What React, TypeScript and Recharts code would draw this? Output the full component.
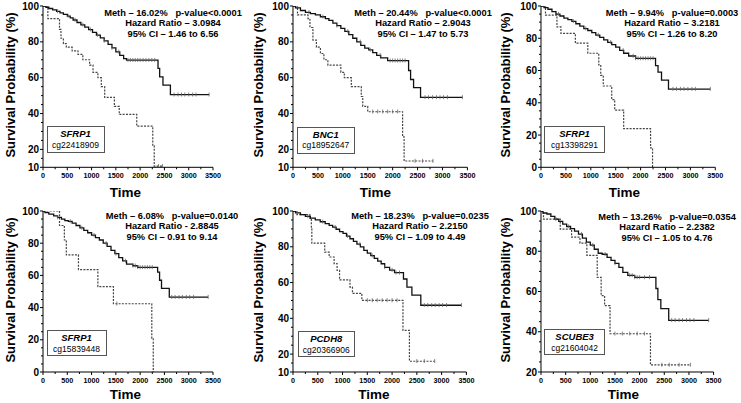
import { ComposedChart, Line, Scatter, XAxis, YAxis } from 'recharts';

// survival curves, [time, survival %] step points
const P1_UNMETH = [[0,100],[60,99.3],[120,98.6],[200,97.8],[280,97],[350,96.2],[420,95.3],[500,94.4],[560,93.4],[620,92.2],[700,90.8],[780,89.5],[860,88.2],[940,86.8],[1020,85.3],[1100,83.8],[1180,82.2],[1260,80.5],[1340,78.6],[1420,76.6],[1500,74.4],[1580,72.4],[1660,70.6],[1720,69.8],[2368,65.2],[2402,60.5],[2470,55.9],[2623,50.5],[3420,50.5]];
const P1_METH = [[0,100],[100,93],[340,87],[370,82],[420,79],[480,77],[600,75],[720,73],[820,70],[960,67],[1030,63],[1130,60],[1200,55],[1270,49],[1470,44],[1570,39.5],[1930,33],[2260,22],[2290,10.6],[2460,10.6]];
const P1_CENS_U = [300,520,660,820,980,1120,1260,1420,1560,1750,1800,1850,1900,1950,2000,2060,2120,2180,2240,2300,2700,2780,2850,2920,3000,3080,3150,3420];
const P1_CENS_M = [2380,2460];

const P2_UNMETH = [[0,100],[50,99],[150,97.5],[250,96.5],[350,95.8],[450,95],[550,94],[650,93],[720,92],[800,90.5],[880,89],[960,87.5],[1040,85.8],[1120,84],[1200,82],[1280,80],[1360,78],[1440,76.5],[1520,75.5],[1600,74],[1680,72.5],[1760,71],[1900,69.5],[2320,64],[2360,59],[2420,54.5],[2560,49],[3400,49]];
const P2_METH = [[0,100],[90,95],[300,93],[340,88],[400,81],[470,77],[550,73.5],[620,70],[700,67],[960,63],[1030,60],[1170,55],[1370,49.5],[1400,44],[1500,41],[2200,27],[2230,13.5],[2810,13.5]];
const P2_CENS_U = [320,600,880,1100,1350,1550,1750,1950,2000,2050,2100,2150,2200,2250,2650,2720,2800,2880,2950,3020,3100,3400];
const P2_CENS_M = [1600,1700,1800,1900,2000,2100,2450,2600,2810];

const P3_UNMETH = [[0,100],[60,99],[140,98],[220,96.5],[300,95],[380,93.8],[460,92.5],[540,91.5],[620,90.5],[700,89],[780,87.5],[860,86],[940,84.8],[1020,83.5],[1100,82],[1180,80.5],[1260,79],[1340,77.5],[1420,76],[1500,74.5],[1580,72.5],[1660,70.7],[1760,69],[1900,67.5],[2300,63],[2350,59],[2420,54],[2560,48.5],[3400,48.5]];
const P3_METH = [[0,100],[90,94.4],[320,87],[400,83],[690,77],[940,70.7],[1160,63.5],[1200,57],[1250,50.4],[1420,42],[1480,35.5],[1660,24],[2200,12],[2240,0]];
const P3_CENS_U = [350,650,900,1150,1400,1650,1850,1900,1950,2000,2050,2100,2150,2200,2250,2650,2720,2800,2870,2950,3030,3100,3400];
const P3_CENS_M: number[] = [];

const P4_UNMETH = [[0,100],[40,99],[120,98],[220,97],[300,96],[380,95],[450,94],[520,93.5],[600,92.5],[680,91],[760,89.5],[840,88],[920,86.5],[1000,85],[1080,83.5],[1160,82],[1240,80],[1320,78],[1400,75.5],[1480,73.5],[1560,71],[1640,69],[1720,67],[1850,66],[1950,65],[2360,62],[2400,57],[2440,52],[2600,46.5],[3400,46.5]];
const P4_METH = [[0,100],[340,91],[440,82],[480,72.7],[730,63.6],[1130,53],[1450,42.4],[2240,21],[2270,0]];
const P4_CENS_U = [300,560,800,1050,1300,1500,1700,1850,1900,1950,2000,2050,2100,2150,2200,2250,2650,2720,2800,2870,2950,3020,3100,3400];
const P4_CENS_M = [1520];

const P5_UNMETH = [[0,100],[50,99],[150,98],[250,97],[350,96],[450,95],[550,94],[650,93],[730,92],[800,91],[870,89.8],[940,88.5],[1010,87.5],[1080,86],[1150,84.5],[1220,83],[1290,81.5],[1360,80],[1430,78],[1500,76.5],[1570,75],[1640,73.5],[1710,72],[1780,70.5],[1850,68.5],[1950,67],[2050,65.5],[2230,62],[2300,57.5],[2400,53],[2580,47.3],[3400,47.3]];
const P5_METH = [[0,100],[80,98],[340,96],[370,90],[380,82],[640,77],[730,74.3],[830,70.6],[890,66.8],[940,61.5],[1150,57.5],[1200,54],[1390,50],[2220,33.3],[2350,16],[2860,16]];
const P5_CENS_U = [300,600,850,1100,1350,1600,1850,2000,2080,2150,2650,2720,2800,2870,2950,3020,3100,3400];
const P5_CENS_M = [1500,1600,1700,1800,1900,2000,2100,2500,2650,2860];

const P6_UNMETH = [[0,100],[40,99],[120,98.5],[200,97.3],[280,96],[360,94.8],[440,93.5],[520,92.3],[600,91.2],[680,90],[760,88.5],[840,86.5],[920,84.5],[1000,83],[1080,81],[1160,79],[1240,78.5],[1340,77],[1420,75.5],[1500,74],[1580,72],[1660,69.5],[1760,68],[1900,67],[2330,61.5],[2370,56],[2430,51.5],[2590,45.7],[3400,45.7]];
const P6_METH = [[0,100],[50,96],[390,91],[620,87],[790,84],[930,78],[1140,67],[1220,58],[1290,53],[1400,39],[2220,23.5],[3030,23.5]];
const P6_CENS_U = [300,560,820,1050,1300,1500,1800,1850,1900,1950,2000,2100,2200,2650,2720,2800,2870,2950,3020,3100,3400];
const P6_CENS_M = [1500,1650,1800,1950,2100,2450,2600,2800,3030];

const X_TICKS = [0, 500, 1000, 1500, 2000, 2500, 3000, 3500];
const Y_TICKS = [
  [10, 20, 40, 60, 80, 100],
  [10, 20, 40, 60, 80, 100],
  [0, 20, 40, 60, 80, 100],
  [0, 20, 40, 60, 80, 100],
  [10, 20, 40, 60, 80, 100],
  [20, 40, 60, 80, 100],
];

const GENES = ['SFRP1', 'BNC1', 'SFRP1', 'SFRP1', 'PCDH8', 'SCUBE3'];
const PROBES = ['cg22418909', 'cg18952647', 'cg13398291', 'cg15839448', 'cg20366906', 'cg21604042'];
const METH = ['Meth – 16.02%', 'Meth – 20.44%', 'Meth – 9.94%', 'Meth – 6.08%', 'Meth – 18.23%', 'Meth – 13.26%'];
const PVALS = ['p-value<0.0001', 'p-value<0.0001', 'p-value=0.0003', 'p-value=0.0140', 'p-value=0.0235', 'p-value=0.0354'];
const HRS = ['Hazard Ratio – 3.0984', 'Hazard Ratio – 2.9043', 'Hazard Ratio – 3.2181', 'Hazard Ratio - 2.8845', 'Hazard Ratio – 2.2150', 'Hazard Ratio – 2.2382'];
const CIS = ['95% CI – 1.46 to 6.56', '95% CI – 1.47 to 5.73', '95% CI – 1.26 to 8.20', '95% CI – 0.91 to 9.14', '95% CI – 1.09 to 4.49', '95% CI – 1.05 to 4.76'];

const CURVES = [
  [P1_UNMETH, P1_METH, P1_CENS_U, P1_CENS_M],
  [P2_UNMETH, P2_METH, P2_CENS_U, P2_CENS_M],
  [P3_UNMETH, P3_METH, P3_CENS_U, P3_CENS_M],
  [P4_UNMETH, P4_METH, P4_CENS_U, P4_CENS_M],
  [P5_UNMETH, P5_METH, P5_CENS_U, P5_CENS_M],
  [P6_UNMETH, P6_METH, P6_CENS_U, P6_CENS_M],
] as any[];

// layout: plot box (L,R,T,B), stats text centre x/y, gene box, axis label centres
const LAYOUT = [
  { L: 43.3, R: 213.3, T: 6, B: 167.3, sx: 173, sy: 12.7, box: [46.5, 126, 58, 27], ylx: 10, yly: 85, tx: 125.5, ty: 191.7 },
  { L: 293.3, R: 467.7, T: 6, B: 167.3, sx: 423, sy: 12.7, box: [296.5, 126.5, 58.5, 27], ylx: 258, yly: 85, tx: 375.3, ty: 192 },
  { L: 540.7, R: 715, T: 6, B: 167.3, sx: 672, sy: 12.7, box: [544, 126, 61, 27], ylx: 505, yly: 85, tx: 624.5, ty: 192 },
  { L: 43.3, R: 213.3, T: 210.7, B: 371.7, sx: 172, sy: 216, box: [46.5, 330, 60, 25.5], ylx: 10, yly: 290, tx: 125.3, ty: 393.5 },
  { L: 293.3, R: 466.7, T: 210.7, B: 371.7, sx: 420, sy: 215.7, box: [297.5, 331, 57.5, 25.5], ylx: 258, yly: 290, tx: 374, ty: 394 },
  { L: 540.7, R: 713.3, T: 210.7, B: 371.7, sx: 667, sy: 216.7, box: [544.3, 329.3, 60.7, 25.5], ylx: 505, yly: 290, tx: 623.5, ty: 394 },
];

const FONT = '"Liberation Sans", Arial, Helvetica, sans-serif';
const YW = 30;
const MT = 6;
const MR = 10;
const XH = 22;

const toPts = (arr: number[][]) => arr.map(([t, s]) => ({ t, s }));
const survAt = (arr: number[][], t: number) => {
  let s = arr[0][1];
  for (const [tt, ss] of arr) if (tt <= t) s = ss;
  return s;
};
const minorTicks = (lo: number, hi: number, step: number) => {
  const out: number[] = [];
  for (let v = lo; v <= hi + 1e-9; v += step) out.push(v);
  return out;
};

const CensorMark = (props: any) => {
  const { cx, cy } = props;
  if (cx == null || cy == null) return null;
  return <line x1={cx} x2={cx} y1={cy - 2.2} y2={cy + 1.8} stroke="#666" strokeWidth={0.8} />;
};

function Panel({ idx }: { idx: number }) {
  const lay = LAYOUT[idx];
  const [unmeth, meth, censU, censM] = CURVES[idx];
  const yMajor = Y_TICKS[idx];
  const yMin = yMajor[0];
  const plotW = lay.R - lay.L;
  const plotH = lay.B - lay.T;
  const w = YW + plotW + MR;
  const h = MT + plotH + XH;
  const yAll = minorTicks(yMin, 100, 5);
  const xAll = minorTicks(0, 3500, 250);
  const censUPts = censU.map((t: number) => ({ t, s: survAt(unmeth, t) }));
  const censMPts = censM.map((t: number) => ({ t, s: survAt(meth, t) }));

  const yTick = (p: any) => {
    const v = p.payload.value;
    const major = yMajor.includes(v);
    return (
      <g>
        <line x1={p.x} x2={p.x - (major ? 3 : 2)} y1={p.y} y2={p.y} stroke="#000" strokeWidth={1} />
        {major && (
          <text x={p.x - 4} y={p.y} dy={3.6} textAnchor="end" fontSize={10} fontWeight="bold" fontFamily={FONT} fill="#000">
            {v}
          </text>
        )}
      </g>
    );
  };
  const xTick = (p: any) => {
    const v = p.payload.value;
    const major = X_TICKS.includes(v);
    return (
      <g>
        <line x1={p.x} x2={p.x} y1={p.y} y2={p.y + (major ? 3 : 2)} stroke="#000" strokeWidth={1} />
        {major && (
          <text x={p.x} y={p.y + 11} textAnchor="middle" fontSize={7.2} fontWeight="bold" fontFamily={FONT} fill="#000">
            {v}
          </text>
        )}
      </g>
    );
  };

  return (
    <div style={{ position: 'absolute', left: lay.L - YW, top: lay.T - MT, width: w, height: h }}>
      <ComposedChart width={w} height={h} margin={{ top: MT, right: MR, left: 0, bottom: 0 }}>
        <XAxis
          type="number"
          dataKey="t"
          domain={[0, 3500]}
          ticks={xAll}
          interval={0}
          tick={xTick}
          tickLine={false}
          tickSize={0}
          tickMargin={0}
          height={XH}
          axisLine={{ stroke: '#000', strokeWidth: 1 }}
          allowDataOverflow
        />
        <YAxis
          type="number"
          dataKey="s"
          domain={[yMin, 100]}
          ticks={yAll}
          interval={0}
          tick={yTick}
          tickLine={false}
          tickSize={0}
          tickMargin={0}
          width={YW}
          axisLine={{ stroke: '#000', strokeWidth: 1 }}
          allowDataOverflow
        />
        <Line
          data={toPts(meth)}
          dataKey="s"
          type="stepAfter"
          stroke="#444"
          strokeWidth={1.2}
          strokeDasharray="2 1.3"
          dot={false}
          activeDot={false}
          isAnimationActive={false}
        />
        <Line
          data={toPts(unmeth)}
          dataKey="s"
          type="stepAfter"
          stroke="#111"
          strokeWidth={1.3}
          dot={false}
          activeDot={false}
          isAnimationActive={false}
        />
        <Scatter data={censUPts} dataKey="s" shape={<CensorMark />} isAnimationActive={false} />
        <Scatter data={censMPts} dataKey="s" shape={<CensorMark />} isAnimationActive={false} />
      </ComposedChart>
    </div>
  );
}

function Overlay({ idx }: { idx: number }) {
  const lay = LAYOUT[idx];
  const [bx, by, bw, bh] = lay.box;
  const statStyle: any = {
    position: 'absolute',
    transform: 'translate(-50%, -50%)',
    whiteSpace: 'pre',
    fontFamily: FONT,
    fontWeight: 'bold',
    fontSize: 9.3,
    lineHeight: '10px',
    color: '#000',
  };
  return (
    <>
      <div style={{ ...statStyle, left: lay.sx, top: lay.sy }}>{METH[idx] + '   ' + PVALS[idx]}</div>
      <div style={{ ...statStyle, left: lay.sx, top: lay.sy + 10.4 }}>{HRS[idx]}</div>
      <div style={{ ...statStyle, left: lay.sx, top: lay.sy + 20.8 }}>{CIS[idx]}</div>
      <div
        style={{
          position: 'absolute',
          left: bx,
          top: by,
          width: bw,
          height: bh,
          boxSizing: 'border-box',
          border: '1px solid #555',
          background: '#fff',
          fontFamily: FONT,
          textAlign: 'center',
          color: '#000',
        }}
      >
        <div style={{ fontSize: 9.5, fontWeight: 'bold', fontStyle: 'italic', lineHeight: '10px', marginTop: 2 }}>{GENES[idx]}</div>
        <div style={{ fontSize: 8.5, lineHeight: '10px', marginTop: 0.5 }}>{PROBES[idx]}</div>
      </div>
      <div
        style={{
          position: 'absolute',
          left: lay.ylx,
          top: lay.yly,
          transform: 'translate(-50%, -50%) rotate(-90deg)',
          whiteSpace: 'nowrap',
          fontFamily: FONT,
          fontWeight: 'bold',
          fontSize: 13,
          color: '#000',
        }}
      >
        Survival Probability (%)
      </div>
      <div
        style={{
          position: 'absolute',
          left: lay.tx,
          top: lay.ty,
          transform: 'translate(-50%, -50%)',
          fontFamily: FONT,
          fontWeight: 'bold',
          fontSize: 13.5,
          color: '#000',
        }}
      >
        Time
      </div>
    </>
  );
}

export default function App() {
  return (
    <div style={{ position: 'absolute', left: 0, top: 0, width: 741, height: 403, background: '#fff', overflow: 'hidden' }}>
      {[0, 1, 2, 3, 4, 5].map((i) => (
        <Panel key={'p' + i} idx={i} />
      ))}
      {[0, 1, 2, 3, 4, 5].map((i) => (
        <Overlay key={'o' + i} idx={i} />
      ))}
    </div>
  );
}
